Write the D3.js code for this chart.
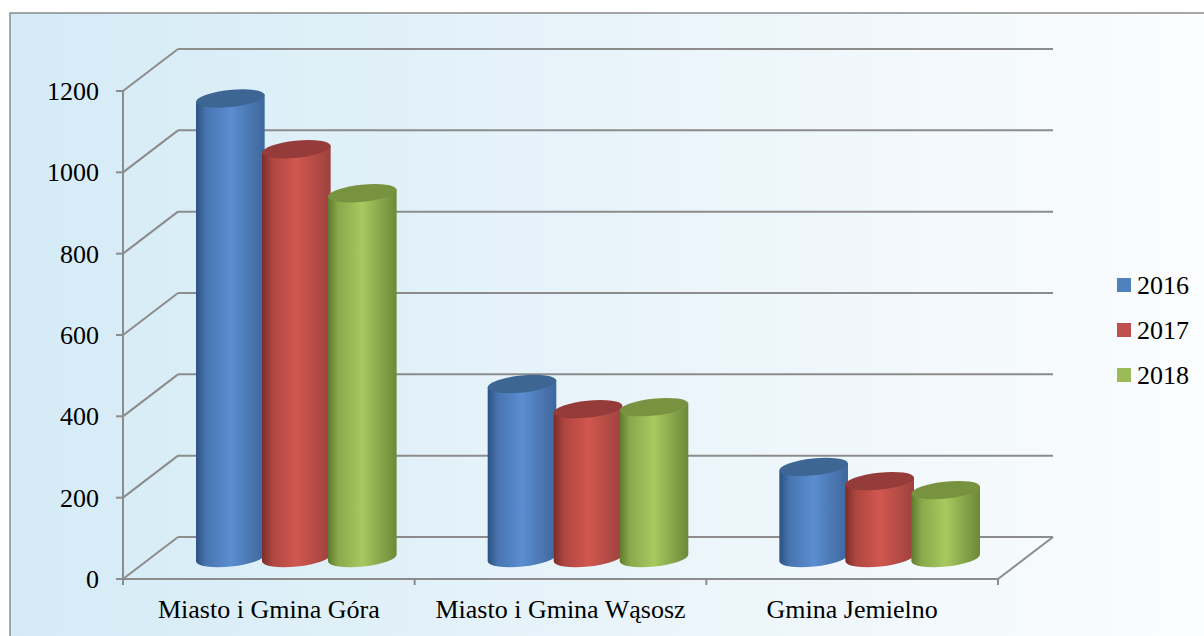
<!DOCTYPE html>
<html><head><meta charset="utf-8">
<script src="https://cdn.jsdelivr.net/npm/d3@7"></script>
<style>html,body{margin:0;padding:0;background:#fff;}svg{display:block;}</style>
</head><body>
<svg id="c" width="1204" height="636"></svg>
<script>
const categories = ["Miasto i Gmina Góra", "Miasto i Gmina Wąsosz", "Gmina Jemielno"];
const seriesNames = ["2016", "2017", "2018"];
const values2016 = [1130, 428, 224];
const values2017 = [1005, 366, 189];
const values2018 = [897, 371, 167];
const yTicks = [0, 200, 400, 600, 800, 1000, 1200];

const seriesValues = [values2016, values2017, values2018];
const colors = {
  "2016": {dark:"#2c5180", mid:"#5b8dd1", right:"#3e679b", top:"#3d6695", key:"#4f81bd"},
  "2017": {dark:"#7a2c2a", mid:"#d1574f", right:"#9d413e", top:"#953b39", key:"#c0504d"},
  "2018": {dark:"#607a2e", mid:"#a6c95f", right:"#6d8838", top:"#77933f", key:"#9bbb59"}
};
const FONT = "'Liberation Serif', 'Times New Roman', Times, serif";
const FS = 26;

const svg = d3.select("#c");
const defs = svg.append("defs");
const bg = defs.append("linearGradient").attr("id","bg").attr("x1","0").attr("x2","1").attr("y1","0").attr("y2","0");
bg.append("stop").attr("offset","0%").attr("stop-color","#d4ebf6");
bg.append("stop").attr("offset","50%").attr("stop-color","#e9f4fa");
bg.append("stop").attr("offset","100%").attr("stop-color","#fcfdfe");
seriesNames.forEach(s => {
  const g = defs.append("linearGradient").attr("id","g"+s).attr("x1","0").attr("x2","1").attr("y1","0").attr("y2","0");
  g.append("stop").attr("offset","0%").attr("stop-color",colors[s].dark);
  g.append("stop").attr("offset","15%").attr("stop-color",d3.interpolateRgb(colors[s].dark,colors[s].mid)(0.6));
  g.append("stop").attr("offset","50%").attr("stop-color",colors[s].mid);
  g.append("stop").attr("offset","85%").attr("stop-color",d3.interpolateRgb(colors[s].mid,colors[s].right)(0.7));
  g.append("stop").attr("offset","100%").attr("stop-color",colors[s].right);
});

svg.append("rect").attr("x",10).attr("y",13).attr("width",1220).attr("height",640)
  .attr("fill","url(#bg)").attr("stroke","#8a8a8a").attr("stroke-width",1.5);

const x0 = 123, x1 = 998;
const dx = 55, dy = -42;
const y = d3.scaleLinear().domain([0,1200]).range([579,91]);
const x = d3.scaleBand().domain(categories).range([x0,x1]).padding(0);
const xs = d3.scaleBand().domain(seriesNames).range([-99,99]).padding(0);

const grid = "#8c8c8c";
const g = svg.append("g");
yTicks.forEach(t => {
  g.append("line").attr("x1",x0+dx).attr("x2",x1+dx).attr("y1",y(t)+dy).attr("y2",y(t)+dy)
    .attr("stroke",grid).attr("stroke-width",2);
  g.append("line").attr("x1",x0).attr("x2",x0+dx).attr("y1",y(t)).attr("y2",y(t)+dy)
    .attr("stroke",grid).attr("stroke-width",2);
});
g.append("line").attr("x1",x0).attr("x2",x1).attr("y1",y(0)).attr("y2",y(0)).attr("stroke",grid).attr("stroke-width",2);
g.append("line").attr("x1",x1).attr("x2",x1+dx).attr("y1",y(0)).attr("y2",y(0)+dy).attr("stroke",grid).attr("stroke-width",2);
g.append("line").attr("x1",x0).attr("x2",x0).attr("y1",y(1200)).attr("y2",y(0)).attr("stroke",grid).attr("stroke-width",2);
yTicks.forEach(t => {
  g.append("line").attr("x1",x0-7).attr("x2",x0).attr("y1",y(t)).attr("y2",y(t)).attr("stroke",grid).attr("stroke-width",2);
  g.append("text").attr("x",99).attr("y",y(t)).attr("dy","0.35em").attr("text-anchor","end")
    .attr("font-family",FONT).attr("font-size",FS).attr("fill","#000").text(t);
});
[...categories.map(c => x(c)), x1].forEach(px => {
  g.append("line").attr("x1",px).attr("x2",px).attr("y1",y(0)).attr("y2",y(0)+6).attr("stroke",grid).attr("stroke-width",2);
});
categories.forEach(c => {
  g.append("text").attr("x",x(c)+x.bandwidth()/2).attr("y",618).attr("text-anchor","middle")
    .attr("font-family",FONT).attr("font-size",FS).attr("fill","#000").text(c);
});

const rx = 34.5, ry = 8.5, rot = -6;
const th = rot*Math.PI/180;
const bars = svg.append("g");
categories.forEach((c, ci) => {
  seriesNames.forEach((s, si) => {
    const v = seriesValues[si][ci];
    const cx = x(c) + x.bandwidth()/2 + dx/2 + xs(s) + xs.bandwidth()/2;
    const cyTop = y(v) + dy/2;
    const cyBot = y(0) + dy/2;
    const ex = rx*Math.cos(th), ey = rx*Math.sin(th);
    const body = `M${cx-ex},${cyTop-ey} L${cx-ex},${cyBot-ey} A${rx},${ry} ${rot} 0 0 ${cx+ex},${cyBot+ey} L${cx+ex},${cyTop+ey} Z`;
    bars.append("path").attr("d",body).attr("fill",`url(#g${s})`);
    bars.append("ellipse").attr("cx",cx).attr("cy",cyTop).attr("rx",rx).attr("ry",ry)
      .attr("transform",`rotate(${rot},${cx},${cyTop})`).attr("fill",colors[s].top);
  });
});

const lg = svg.append("g");
seriesNames.forEach((s,i) => {
  const ly = 285 + i*45;
  lg.append("rect").attr("x",1117).attr("y",ly-7).attr("width",14).attr("height",14).attr("fill",colors[s].key);
  lg.append("text").attr("x",1137).attr("y",ly).attr("dy","0.35em")
    .attr("font-family",FONT).attr("font-size",FS).attr("fill","#000").text(s);
});
</script>
</body></html>
